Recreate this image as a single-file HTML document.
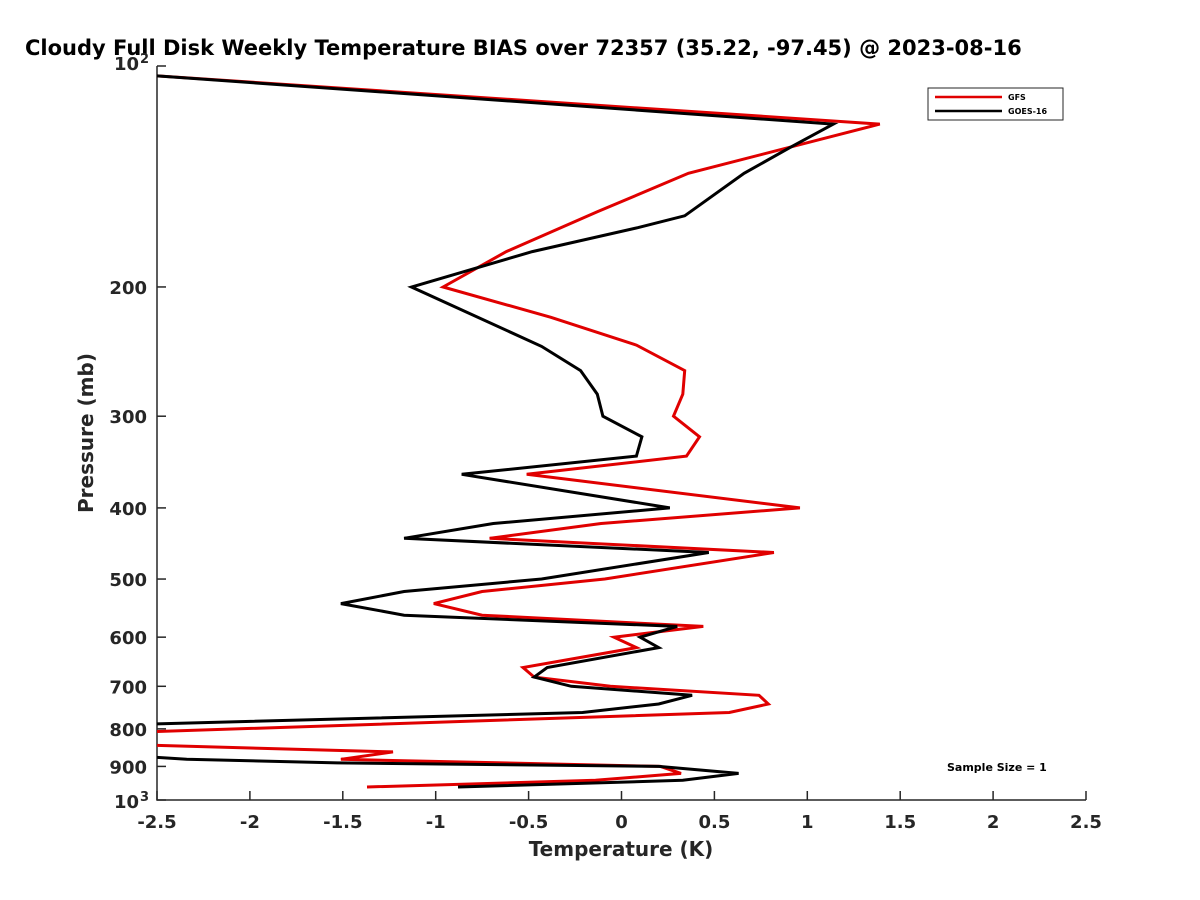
<!DOCTYPE html>
<html><head><meta charset="utf-8"><style>
body{margin:0;background:#fff;}
svg{display:block;font-family:"DejaVu Sans","Liberation Sans",sans-serif;font-weight:bold;}
</style></head><body>
<svg id="chart" width="1200" height="900">
<text x="25" y="55" font-size="21" fill="#000">Cloudy Full Disk Weekly Temperature BIAS over 72357 (35.22, -97.45) @ 2023-08-16</text>
<defs><clipPath id="plotclip"><rect x="157" y="66" width="929" height="734"/></clipPath></defs>
<g id="axes"></g>
<g id="series" clip-path="url(#plotclip)"></g>
<text x="621" y="856" font-size="20" text-anchor="middle" fill="#262626">Temperature (K)</text>
<text transform="translate(93,433) rotate(-90)" font-size="20" text-anchor="middle" fill="#262626">Pressure (mb)</text>
<g>
<rect x="928" y="88" width="135" height="32" fill="#fff" stroke="#262626" stroke-width="1"/>
<line x1="935" y1="97" x2="1002" y2="97" stroke="#e00000" stroke-width="2.5"/>
<text x="1008" y="100" font-size="8">GFS</text>
<line x1="935" y1="111" x2="1002" y2="111" stroke="#000" stroke-width="2.5"/>
<text x="1008" y="114" font-size="8">GOES-16</text>
</g>
<text x="947" y="771" font-size="11">Sample Size = 1</text>
</svg>
<script>
const xTicks = [-2.5,-2,-1.5,-1,-0.5,0,0.5,1,1.5,2,2.5];
const yTicks = [100,200,300,400,500,600,700,800,900,1000];
const yTickLabels = ["10^2","200","300","400","500","600","700","800","900","10^3"];
const gfsP = [103,120,140,158,179,200,220,240,260,280,300,320,340,360,400,420,440,460,500,520,540,560,580,600,620,660,680,700,720,740,760,810,840,860,880,900,920,940,960];
const gfsT = [-2.54,1.39,0.36,-0.13,-0.62,-0.96,-0.38,0.08,0.34,0.33,0.28,0.42,0.35,-0.51,0.96,-0.11,-0.71,0.82,-0.09,-0.75,-1.01,-0.75,0.44,-0.04,0.08,-0.53,-0.47,-0.06,0.74,0.79,0.58,-2.7,-2.7,-1.23,-1.51,0.21,0.32,-0.14,-1.37];
const goesP = [103,120,129,140,160,166,179,200,241,260,280,300,320,340,360,400,420,440,460,500,520,540,560,580,600,620,660,680,700,720,740,760,790,868,880,890,900,920,940,960];
const goesT = [-2.54,1.14,0.91,0.66,0.34,0.09,-0.48,-1.13,-0.43,-0.22,-0.13,-0.10,0.11,0.08,-0.86,0.26,-0.69,-1.17,0.47,-0.43,-1.17,-1.51,-1.17,0.30,0.10,0.20,-0.40,-0.47,-0.27,0.38,0.20,-0.21,-2.7,-2.7,-2.34,-1.53,0.20,0.63,0.33,-0.88];

const X0=157,X1=1086,Y0=66,Y1=800;
const xs=t=>X0+(t+2.5)/5*(X1-X0);
const ys=p=>Y0+Math.log10(p/100)*(Y1-Y0);
const NS="http://www.w3.org/2000/svg";
const axes=document.getElementById('axes');
function mk(tag,attrs,parent){const e=document.createElementNS(NS,tag);for(const k in attrs)e.setAttribute(k,attrs[k]);parent.appendChild(e);return e;}
const ax=mk('path',{d:`M${X0},${Y0}V${Y1}H${X1}`,fill:'none',stroke:'#262626','stroke-width':1.5},axes);


xTicks.forEach(t=>{
  const x=xs(t);
  mk('line',{x1:x,y1:Y1,x2:x,y2:Y1-9,stroke:'#262626','stroke-width':1.5},axes);
  const lb=mk('text',{x:x,y:Y1+28,'font-size':18,'text-anchor':'middle',fill:'#262626'},axes);
  lb.textContent=String(t);
  
  
});
yTicks.forEach((p,i)=>{
  const y=ys(p);
  mk('line',{x1:X0,y1:y,x2:X0+9,y2:y,stroke:'#262626','stroke-width':1.5},axes);
  const s=yTickLabels[i];
  if(s.indexOf('^')>=0){
    const parts=s.split('^');
    const lb=mk('text',{x:X0-18,y:y+(i===0?4:8),'font-size':18,'text-anchor':'end',fill:'#262626'},axes);
    lb.textContent=parts[0];
    
    
    const sp=mk('text',{x:X0-8,y:y+(i===0?-3:1),'font-size':13,'text-anchor':'end',fill:'#262626'},axes);
    sp.textContent=parts[1];
    
    
  } else {
    const lb=mk('text',{x:X0-10,y:y+7,'font-size':18,'text-anchor':'end',fill:'#262626'},axes);
    lb.textContent=s;
    
    
  }
});
const ser=document.getElementById('series');
function line(P,T,color,name){
  const pts=P.map((p,i)=>xs(T[i]).toFixed(1)+','+ys(p).toFixed(1)).join(' ');
  const pl=mk('polyline',{points:pts,fill:'none',stroke:color,'stroke-width':3,'stroke-linejoin':'miter'},ser);
  
  
}
line(gfsP,gfsT,'#e00000','gfs-line');
line(goesP,goesT,'#000000','goes16-line');
</script>
</body></html>
